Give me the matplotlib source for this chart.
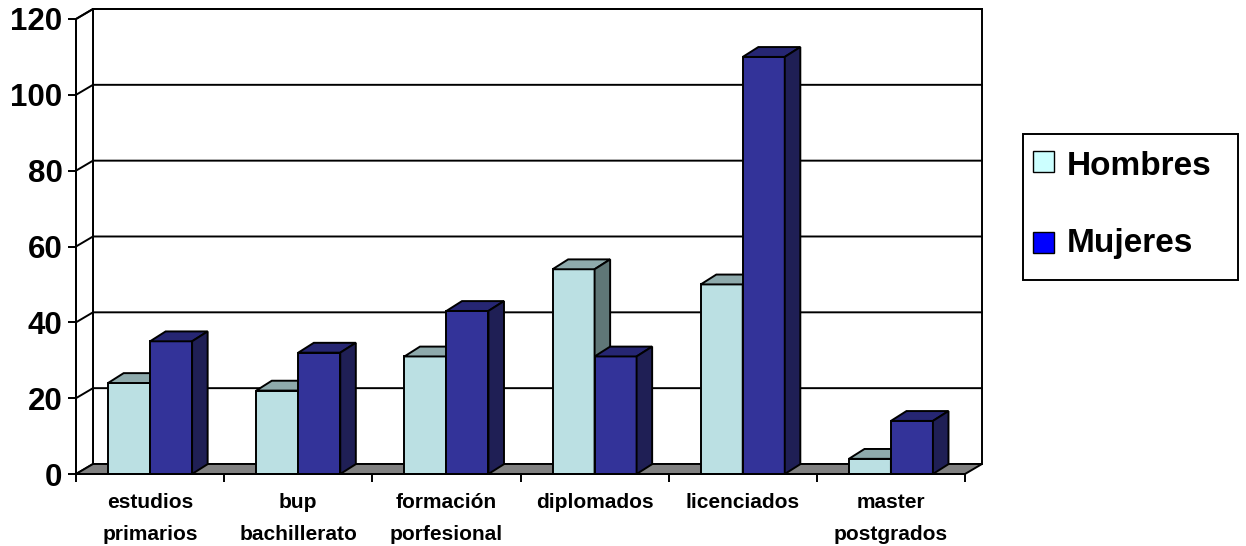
import matplotlib
matplotlib.use('Agg')
import matplotlib.pyplot as plt
from matplotlib.patches import Polygon, Rectangle

plt.rcParams['font.family'] = ['Liberation Sans', 'DejaVu Sans']
plt.rcParams['font.weight'] = 'bold'

# Datos
categorias = [('estudios', 'primarios'), ('bup', 'bachillerato'), ('formación', 'porfesional'),
              ('diplomados', ''), ('licenciados', ''), ('master', 'postgrados')]
hombres = [24, 22, 31, 54, 50, 4]
mujeres = [35, 32, 43, 31, 110, 14]
series = ['Hombres', 'Mujeres']
y_ticks = [0, 20, 40, 60, 80, 100, 120]

# Colores (frente, arriba, lado)
col_h = ('#BBE0E3', '#8EAAAC', '#5F7777')
col_m = ('#333399', '#262673', '#1F1F55')
col_leg = ['#CCFFFF', '#0000FF']

W, H = 1246, 546
fig = plt.figure(figsize=(W / 100, H / 100), dpi=100)
# eje frontal: x 76..965 px, y 474 (0) .. 19 (120)
ax = fig.add_axes([76 / W, (H - 474) / H, 889 / W, 455 / H])
ax.set_xlim(0, 6)
ax.set_ylim(0, 120)

dx, dy = 0.1147, 2.64      # profundidad de las paredes
bdx, bdy = 0.105, 2.6      # profundidad de las barras
ancho = 0.2835
n = len(categorias)
lw = 1.4

# suelo
ax.add_patch(Polygon([(0, 0), (n, 0), (n + dx, dy), (dx, dy)], closed=True,
                     facecolor='#808080', edgecolor='black', lw=lw, zorder=1, clip_on=False))
# pared del fondo
ax.add_patch(Rectangle((dx, dy), n, 120, facecolor='white', edgecolor='black',
                       lw=lw, zorder=0.8, clip_on=False))
# pared izquierda
ax.add_patch(Polygon([(0, 0), (0, 120), (dx, 120 + dy), (dx, dy)], closed=True,
                     facecolor='white', edgecolor='black', lw=lw, zorder=0.9, clip_on=False))
# líneas de división
for v in y_ticks[1:]:
    ax.plot([0, dx, n + dx], [v, v + dy, v + dy], color='black', lw=lw,
            zorder=1.1, clip_on=False)


def barra3d(x0, valor, cols):
    x1 = x0 + ancho
    kw = dict(closed=True, edgecolor='black', lw=lw, clip_on=False, zorder=3)
    ax.add_patch(Polygon([(x0, 0), (x1, 0), (x1, valor), (x0, valor)], facecolor=cols[0], **kw))
    ax.add_patch(Polygon([(x0, valor), (x1, valor), (x1 + bdx, valor + bdy), (x0 + bdx, valor + bdy)],
                         facecolor=cols[1], **kw))
    ax.add_patch(Polygon([(x1, 0), (x1 + bdx, bdy), (x1 + bdx, valor + bdy), (x1, valor)],
                         facecolor=cols[2], **kw))


for i in range(n):
    c = i + 0.5
    barra3d(c - ancho, hombres[i], col_h)
    barra3d(c, mujeres[i], col_m)
    l1, l2 = categorias[i]
    ax.text(c, -8.9, l1, ha='center', va='baseline', fontsize=15, fontweight='bold')
    if l2:
        ax.text(c, -17.4, l2, ha='center', va='baseline', fontsize=15, fontweight='bold')

# ejes
for s in ['top', 'right']:
    ax.spines[s].set_visible(False)
for s in ['left', 'bottom']:
    ax.spines[s].set_linewidth(lw)
    ax.spines[s].set_zorder(4)
ax.set_yticks(y_ticks)
ax.set_yticklabels([str(v) for v in y_ticks], fontsize=22.5, fontweight='bold')
ax.set_xticks(range(n + 1))
ax.set_xticklabels([])
ax.tick_params(axis='both', direction='out', length=5.8, width=lw)
ax.tick_params(axis='y', pad=4.0)
ax.patch.set_visible(False)

# leyenda
def fx(px):
    return px / W


def fy(py):
    return (H - py) / H


fig.add_artist(Rectangle((fx(1023), fy(280)), fx(1238) - fx(1023), fy(134) - fy(280),
                         transform=fig.transFigure, facecolor='white', edgecolor='black', lw=lw))
for k, (nombre, col, ytop, ybase) in enumerate(zip(series, col_leg, [151, 232], [175, 252])):
    fig.add_artist(Rectangle((fx(1033), fy(ytop + 21)), 21 / W, 21 / H, transform=fig.transFigure,
                             facecolor=col, edgecolor='black', lw=1.0))
    fig.text(fx(1067), fy(ybase), nombre, fontsize=24, fontweight='bold', va='baseline', ha='left')

fig.savefig('out.png', dpi=100)
